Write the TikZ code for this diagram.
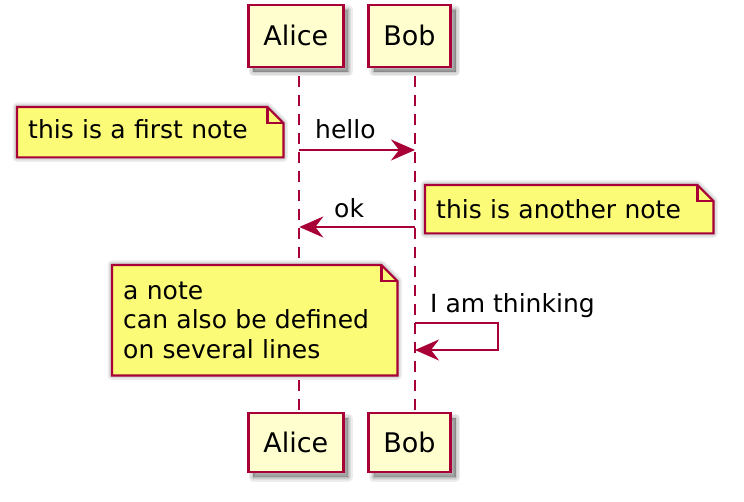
\documentclass[tikz,border=0pt]{standalone}
\usepackage{fontspec}
\setmainfont{DejaVu Sans}
\usetikzlibrary{arrows.meta}
\definecolor{umlred}{HTML}{A80036}
\definecolor{partfill}{HTML}{FEFECE}
\definecolor{notefill}{HTML}{FBFB77}
\pgfdeclarelayer{bg}
\pgfdeclarelayer{notes}
\pgfsetlayers{bg,notes,main}
\newcommand\umlshadow[1]{%
  \foreach \w in {0,3,6,9}{\fill[black,opacity=0.07,draw=black,line width=\w pt,line join=round,shift={(5,5)}] #1;}}
\newcommand\notepath[1]{(#1.north west) -- ([xshift=-16pt]#1.north east) -- ([yshift=-16pt]#1.north east) -- (#1.south east) -- (#1.south west) -- cycle}
\newcommand\notefold[1]{([xshift=-16pt]#1.north east) -- ++(0,16) -- ++(16,0)}
\tikzset{
  x=1pt,y=-1pt,
  shadowlayer/.style={fill=black,opacity=0.07,draw=black,line width=#1,line join=round,transform canvas={xshift=5pt,yshift=-5pt}},
  part/.style={draw=umlred,fill=partfill,line width=2.5pt,minimum height=62pt,inner sep=0pt,
    text height=20pt,text depth=0pt,
    font=\fontsize{27}{32}\selectfont,
    preaction={shadowlayer=0pt},
    preaction={shadowlayer=3pt},
    preaction={shadowlayer=6pt},
    preaction={shadowlayer=9pt}},
  notebox/.style={anchor=north west,inner xsep=11pt,inner ysep=0pt,align=left,
    font=\fontsize{25}{29.5}\selectfont},
  noteshape/.style={draw=umlred,fill=notefill,line width=2.2pt,line join=miter},
  lifeline/.style={draw=umlred,line width=1.8pt,dash pattern=on 11pt off 8pt,dash phase=11pt},
  msg/.style={draw=umlred,line width=2pt,-{Stealth[length=24pt,width=21pt,inset=8pt]}},
  msglabel/.style={anchor=base west,inner sep=0pt,font=\fontsize{25}{29.5}\selectfont}
}
\begin{document}
\begin{tikzpicture}
\useasboundingbox (0,0) rectangle (744,502);
\begin{pgfonlayer}{bg}
\fill[white] (0,0) rectangle (744,502);
\end{pgfonlayer}

% participants
\node[part,minimum width=95pt] (aliceTop) at (295.8,35.8) {Alice};
\node[part,minimum width=82pt] (bobTop) at (409.5,35.8) {Bob};
\node[part,minimum width=95pt,minimum height=59pt] (aliceBot) at (295.8,442.5) {Alice};
\node[part,minimum width=82pt,minimum height=59pt] (bobBot) at (409.5,442.5) {Bob};

\coordinate (aL) at (299.3,0);
\coordinate (bL) at (415,0);

\begin{pgfonlayer}{bg}
\draw[lifeline] (aliceTop.south -| aL) -- (aliceBot.north -| aL);
\draw[lifeline] (bobTop.south -| bL) -- (bobBot.north -| bL);
\end{pgfonlayer}

% messages
\coordinate (m1a) at (299.3,150);
\coordinate (m1b) at (415,150);
\draw[msg] (m1a) -- (m1b);
\node[msglabel] (lhello) at (315,139) {hello};

\coordinate (m2a) at (415,227);
\coordinate (m2b) at (299.3,227);
\draw[msg] (m2a) -- (m2b);
\node[msglabel] (lok) at (334,218) {ok};

\coordinate (s1) at (415,323.3);
\coordinate (s2) at (498.3,323.3);
\coordinate (s3) at (498.3,350);
\coordinate (s4) at (415,350);
\draw[msg] (s1) -- (s2) -- (s3) -- (s4);
\node[msglabel] (lthink) at (430,313) {I am thinking};

% notes
\node[notebox,text width=244pt,minimum height=50pt,text height=19pt,text depth=7pt] (n1) at (17,107) {this is a first note};
\node[notebox,text width=266pt,minimum height=48pt,text height=19pt,text depth=1pt] (n2) at (425,185) {this is another note};
\node[notebox,text width=263pt,minimum height=110pt] (n3) at (112,265) {a note\\can also be defined\\on several lines};

\begin{pgfonlayer}{notes}
\foreach \n in {n1,n2,n3}{
  \umlshadow{\notepath{\n}}
  \path[noteshape] \notepath{\n};
  \draw[noteshape,fill=none] \notefold{\n};
}
\end{pgfonlayer}
\end{tikzpicture}
\end{document}
